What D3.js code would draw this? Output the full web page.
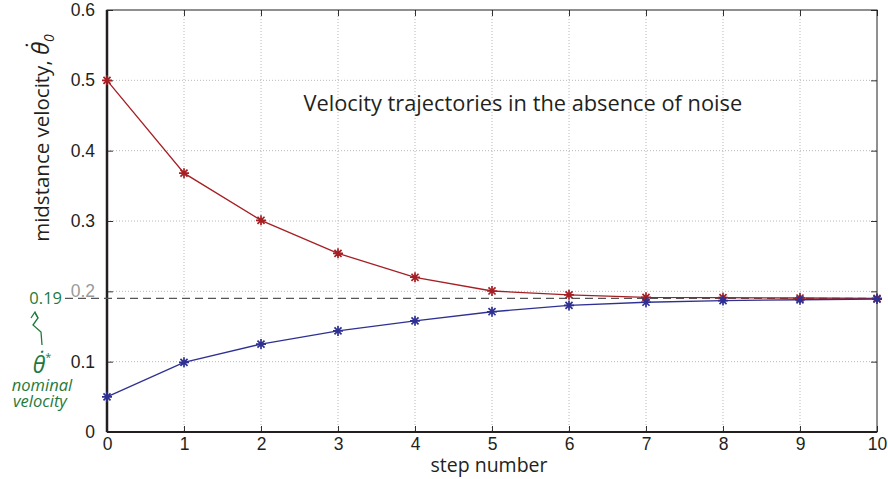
<!DOCTYPE html>
<html>
<head>
<meta charset="utf-8">
<title>Velocity trajectories</title>
<script src="https://cdn.jsdelivr.net/npm/d3@7"></script>
<style>
  body { margin: 0; background: #fff; }
  svg { font-family: "Open Sans", "DejaVu Sans", sans-serif; }
</style>
</head>
<body>
<div id="chart"></div>
<script>
// data
var steps = [0, 1, 2, 3, 4, 5, 6, 7, 8, 9, 10];
var fromAbove = [0.5, 0.368, 0.301, 0.254, 0.220, 0.2005, 0.195, 0.1915, 0.191, 0.1905, 0.190];
var fromBelow = [0.05, 0.099, 0.125, 0.1437, 0.158, 0.171, 0.180, 0.1845, 0.1868, 0.188, 0.189];
var nominal = 0.19;
var xTicks = [0, 1, 2, 3, 4, 5, 6, 7, 8, 9, 10];
var yTicks = [0, 0.1, 0.2, 0.3, 0.4, 0.5, 0.6];

var W = 888, H = 479;
var margin = {top: 10, right: 11, bottom: 47, left: 107};
var width = W - margin.left - margin.right,
    height = H - margin.top - margin.bottom;

var svg = d3.select("#chart").append("svg")
    .attr("width", W).attr("height", H);
var g = svg.append("g")
    .attr("transform", "translate(" + margin.left + "," + margin.top + ")");

var x = d3.scaleLinear().domain([0, 10]).range([0, width]);
var y = d3.scaleLinear().domain([0, 0.6]).range([height, 0]);

// dotted grid
g.append("g").selectAll("line").data(xTicks.slice(1, -1)).join("line")
    .attr("x1", d => x(d)).attr("x2", d => x(d))
    .attr("y1", 0).attr("y2", height)
    .attr("stroke", "#b8b8b8").attr("stroke-width", 1)
    .attr("stroke-dasharray", "1,2");
g.append("g").selectAll("line").data(yTicks.slice(1, -1)).join("line")
    .attr("y1", d => y(d)).attr("y2", d => y(d))
    .attr("x1", 0).attr("x2", width)
    .attr("stroke", "#b8b8b8").attr("stroke-width", 1)
    .attr("stroke-dasharray", "1,2");

// axes with inward ticks on all four sides
function styleAxis(sel) {
  sel.select(".domain").remove();
  sel.selectAll(".tick line").attr("stroke", "#333").attr("stroke-width", 1);
  sel.selectAll(".tick text").attr("fill", "#231f20").attr("font-size", 17.5);
}
g.append("g").attr("transform", "translate(0," + height + ")")
    .call(d3.axisBottom(x).tickValues(xTicks).tickSizeInner(-6).tickPadding(6))
    .call(styleAxis);
g.append("g")
    .call(d3.axisLeft(y).tickValues(yTicks).tickSizeInner(-6).tickPadding(12)
      .tickFormat(d => d === 0 ? "0" : d3.format(".1f")(d)))
    .call(styleAxis)
    .call(s => s.selectAll(".tick text").filter(d => d === 0.2).attr("fill", "#9a9a9a"));
g.append("g")
    .call(d3.axisTop(x).tickValues(xTicks).tickSizeInner(-6).tickFormat(""))
    .call(styleAxis);
g.append("g").attr("transform", "translate(" + width + ",0)")
    .call(d3.axisRight(y).tickValues(yTicks).tickSizeInner(-6).tickFormat(""))
    .call(styleAxis);

// box
g.append("rect").attr("x", 0).attr("y", 0).attr("width", width).attr("height", height)
    .attr("fill", "none").attr("stroke", "#231f20").attr("stroke-width", 1);
g.append("line").attr("x1", 0).attr("x2", 0).attr("y1", 0).attr("y2", height)
    .attr("stroke", "#231f20").attr("stroke-width", 2.5);
g.append("line").attr("x1", 0).attr("x2", width).attr("y1", height).attr("y2", height)
    .attr("stroke", "#231f20").attr("stroke-width", 2);

// nominal velocity dashed line
g.append("line")
    .attr("x1", -42).attr("x2", width)
    .attr("y1", y(nominal)).attr("y2", y(nominal))
    .attr("stroke", "#555").attr("stroke-width", 1.2)
    .attr("stroke-dasharray", "8,5");

// series
var line = d3.line().x((d, i) => x(steps[i])).y(d => y(d));
var star = function(r) {
  var a = r * Math.SQRT1_2;
  return "M" + (-r) + ",0H" + r + "M0," + (-r) + "V" + r +
         "M" + (-a) + "," + (-a) + "L" + a + "," + a +
         "M" + (-a) + "," + a + "L" + a + "," + (-a);
};
[{vals: fromAbove, color: "#a51f24"}, {vals: fromBelow, color: "#2e3192"}].forEach(function(s) {
  g.append("path").datum(s.vals)
      .attr("d", line).attr("fill", "none")
      .attr("stroke", s.color).attr("stroke-width", 1.3);
  g.append("g").selectAll("path").data(s.vals).join("path")
      .attr("transform", (d, i) => "translate(" + x(steps[i]) + "," + y(d) + ")")
      .attr("d", star(5))
      .attr("stroke", s.color).attr("stroke-width", 1.7).attr("fill", "none");
});

// title inside plot
g.append("text")
    .attr("x", x(5.4)).attr("y", 111 - margin.top)
    .attr("text-anchor", "middle")
    .attr("font-size", 21.8).attr("fill", "#231f20")
    .text("Velocity trajectories in the absence of noise");

// x label
svg.append("text")
    .attr("x", margin.left + width / 2 - 3).attr("y", 472)
    .attr("text-anchor", "middle")
    .attr("font-size", 19.5).attr("fill", "#231f20")
    .text("step number");

// y label
var yl = svg.append("text")
    .attr("transform", "translate(49,138) rotate(-90)")
    .attr("text-anchor", "middle")
    .attr("font-size", 20.5).attr("fill", "#231f20");
yl.append("tspan").text("midstance velocity,  ");
yl.append("tspan").attr("font-style", "italic").attr("font-size", 24).text("\u03B8\u0307");
yl.append("tspan").attr("font-style", "italic").attr("font-size", 14).attr("dy", 5).text("0");

// green annotation
var green = "#1e7a3c";
svg.append("text")
    .attr("x", 62).attr("y", y(nominal) + margin.top + 6)
    .attr("text-anchor", "end").attr("font-size", 16.5).attr("fill", green)
    .text("0.19");
svg.append("path")
    .attr("d", "M42,345 L41,332 L33,325 L38,318 L35,313")
    .attr("fill", "none").attr("stroke", green).attr("stroke-width", 1.3);
svg.append("path")
    .attr("d", "M31,318 L35,312 L38,318")
    .attr("fill", "none").attr("stroke", green).attr("stroke-width", 1.3);
var th = svg.append("text")
    .attr("x", 42).attr("y", 373)
    .attr("text-anchor", "middle").attr("fill", green);
th.append("tspan").attr("font-size", 23).attr("font-style", "italic").text("\u03B8\u0307");
th.append("tspan").attr("font-size", 11).attr("dy", -12).text("*");
svg.append("text")
    .attr("x", 42).attr("y", 391)
    .attr("text-anchor", "middle").attr("font-size", 16.5)
    .attr("font-style", "italic").attr("fill", green)
    .text("nominal");
svg.append("text")
    .attr("x", 40).attr("y", 407)
    .attr("text-anchor", "middle").attr("font-size", 16.5)
    .attr("font-style", "italic").attr("fill", green)
    .text("velocity");
</script>
</body>
</html>
